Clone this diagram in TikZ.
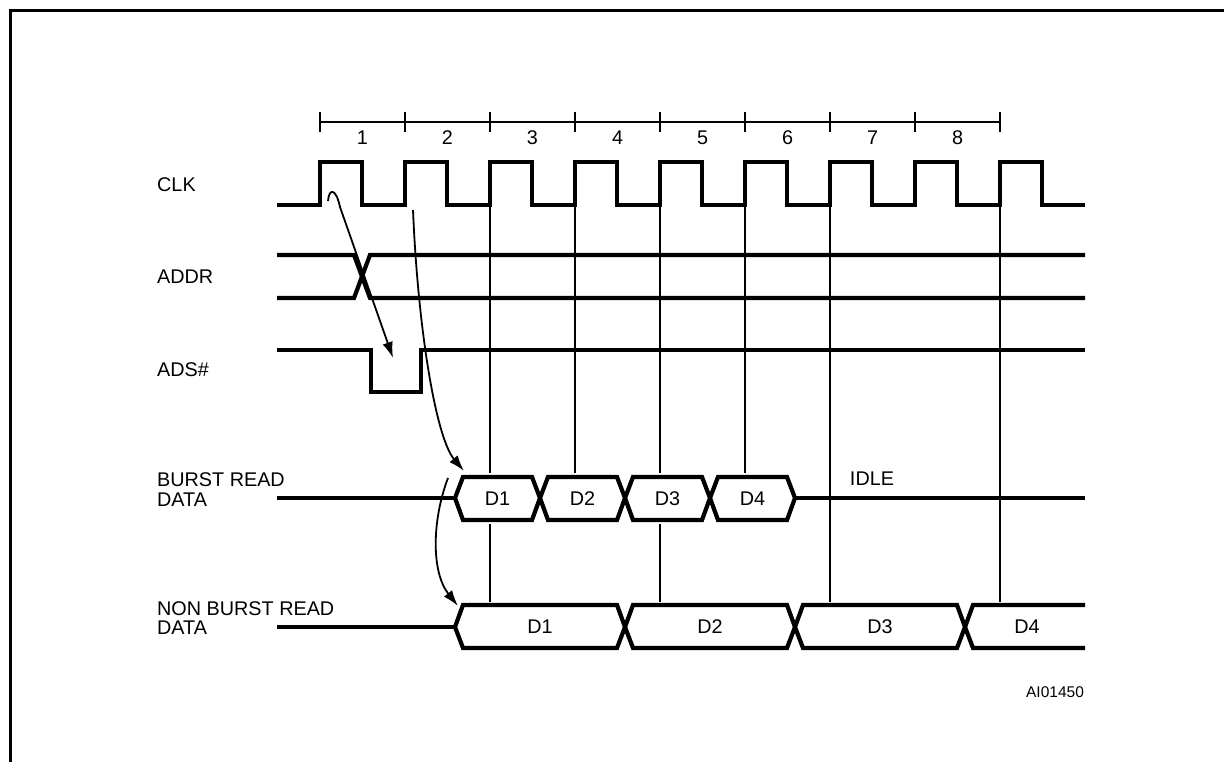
\documentclass[tikz,border=0pt]{standalone}
\usepackage{fontspec}
\setmainfont{Liberation Sans}
\usetikzlibrary{arrows.meta}
\begin{document}
\begin{tikzpicture}[x=1pt,y=-1pt,
  sig/.style={line width=4.2pt,line join=miter,line cap=butt},
  guide/.style={line width=1.9pt},
  rule/.style={line width=2pt},
  frame/.style={line width=3pt},
  lbl/.style={inner sep=0pt,font=\fontsize{19.8}{19.5}\selectfont,align=left},
  small/.style={inner sep=0pt,font=\fontsize{15.5}{17}\selectfont},
  arr/.style={line width=1.8pt,-{Latex[length=16pt,width=10.5pt]}}]
\useasboundingbox (0,0) rectangle (1224,762);
% frame (top and left edges visible)
\draw[frame] (10.5,762) -- (10.5,10.5) -- (1224,10.5);
% clock ruler
\draw[rule] (320,122) -- (1000,122);
\foreach \i in {0,...,8} \draw[rule] ({320+85*\i},112) -- ({320+85*\i},132);
\foreach \i in {1,...,8} \node[lbl] (n\i) at ({277.5+85*\i},138) {\i};
% labels
\node[lbl,anchor=west] (lclk) at (157,185) {CLK};
\node[lbl,anchor=west] (laddr) at (157,277) {ADDR};
\node[lbl,anchor=west] (lads) at (157,370) {ADS\#};
\node[lbl,anchor=west] (lbr) at (157,489.5) {BURST READ\\DATA};
\node[lbl,anchor=west] (lnbr) at (157,618) {NON BURST READ\\DATA};
% CLK
\draw[sig] (277,205) foreach \i in {0,...,8} { -- ({320+85*\i},205) -- ({320+85*\i},162) -- ({362+85*\i},162) -- ({362+85*\i},205) } -- (1085,205);
% ADDR
\draw[sig] (277,255) -- (354,255) -- (370,298) -- (1085,298);
\draw[sig] (277,298) -- (354,298) -- (370,255) -- (1085,255);
% ADS#
\draw[sig] (277,350) -- (371,350) -- (371,392) -- (421,392) -- (421,350) -- (1085,350);
% guide lines
\foreach \x in {490,575,660,745} \draw[guide] (\x,207) -- (\x,473);
\foreach \x in {830,1000} \draw[guide] (\x,207) -- (\x,602);
\foreach \x in {490,660} \draw[guide] (\x,524) -- (\x,602);
% burst read data
\draw[sig] (277,498) -- (455,498);
\foreach \a/\t in {455/D1,540/D2,625/D3,710/D4} {
  \draw[sig] (\a,498) -- (\a+8,477) -- (\a+77,477) -- (\a+85,498) -- (\a+77,520) -- (\a+8,520) -- cycle;
  \node[lbl] (b\t) at (\a+42.5,499) {\t};
}
\draw[sig] (795,498) -- (1085,498);
\node[lbl] (idle) at (872,479) {IDLE};
% non burst read data
\draw[sig] (277,627) -- (455,627);
\foreach \a/\t in {455/D1,625/D2,795/D3} {
  \draw[sig] (\a,627) -- (\a+8,605) -- (\a+162,605) -- (\a+170,627) -- (\a+162,648) -- (\a+8,648) -- cycle;
  \node[lbl] (nb\t) at (\a+85,627) {\t};
}
\draw[sig] (1085,605) -- (973,605) -- (965,627) -- (973,648) -- (1085,648);
\node[lbl] (nbD4) at (1027,627) {D4};
\node[small] (ai) at (1055,692) {AI01450};
% causal arrows
\coordinate (a1s) at (328,201);
\coordinate (a1m) at (340,207);
\coordinate (a1e) at (393,358);
\draw[arr] (a1s) .. controls (329,188) and (336,188) .. (a1m) -- (a1e);
\coordinate (a2s) at (413,210);
\coordinate (a2e) at (464,471);
\draw[arr] (a2s) .. controls (418,330) and (436,438) .. (a2e);
\coordinate (a3s) at (448,478);
\coordinate (a3e) at (458,606);
\draw[arr] (a3s) .. controls (432,520) and (431,572) .. (a3e);
\end{tikzpicture}
\end{document}
